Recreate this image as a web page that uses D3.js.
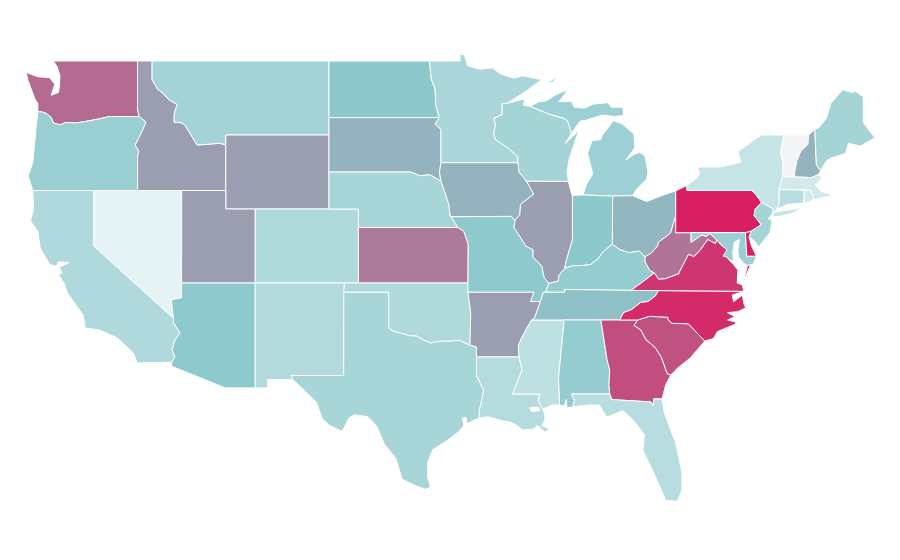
<!DOCTYPE html>
<html><head><meta charset="utf-8">
<script src="https://cdn.jsdelivr.net/npm/d3@7/dist/d3.min.js"></script>
<style>html,body{margin:0;padding:0;background:#fff}svg{display:block}</style>
</head><body><svg id="map" width="900" height="560"></svg>
<script>
const stateNames=["WA","OR","CA","ID","NV","MT","WY","UT","AZ","CO","NM","ND","SD","NE","KS","OK","TX","MN","IA","MO","AR","LA","WI","IL","MS","MI","IN","KY","TN","AL","OH","GA","FL","SC","NC","WV","PA","NY","VT","NH","ME","MA","RI","CT","NJ","MD","VA","DE"];
const stateValues=[82,44,33.5,70,8,39,70,70,49,33,32,50,60,37,78.5,33,37,36,60,49,70,31,38,70,27,42,50,46,54,46,58,89,29.5,88,97.5,80,100,23,0,60,38,17,17,29,38,43,94.5,100];
const valueStops=[0,8,50,70,100];
const colorStops=["#f3f4f5","#e5f3f4","#8cc8cc","#9b9eb1","#d81f62"];
const lonAnchors=[-109,-67];
const xAnchors=[256,875];
const latAnchors=[49,25];
const yAnchors=[61,505];

const WA=[[[-117.04,49],[-122.75,49],[-122.5,48.7],[-122.3,48.2],[-122.35,47.6],[-122.4,47.3],[-122.9,47.15],[-122.65,47.75],[-123,48.1],[-123.8,48.15],[-124.6,48.38],[-124.45,47.9],[-124.0,46.95],[-123.8,46.7],[-123.8,46.25],[-123.5,46.25],[-123.2,46.15],[-122.9,45.95],[-122.75,45.65],[-122.3,45.55],[-121.9,45.68],[-121.2,45.65],[-120.6,45.73],[-119.9,45.83],[-119.3,45.93],[-118.98,46],[-116.92,46],[-117.04,46.4]]];
const OR=[[[-123.8,46.25],[-123.5,46.25],[-123.2,46.15],[-122.9,45.95],[-122.75,45.65],[-122.3,45.55],[-121.9,45.68],[-121.2,45.65],[-120.6,45.73],[-119.9,45.83],[-119.3,45.93],[-118.98,46],[-116.92,46],[-116.46,45.7],[-116.67,45.3],[-116.85,45],[-117.2,44.45],[-117.03,44.25],[-116.95,44.1],[-117.03,43.85],[-117.03,42],[-124.15,42],[-124.45,42.8],[-124.15,43.5],[-124.0,44.7],[-123.9,45.6]]];
const CA=[[[-124.15,42],[-120,42],[-120,39],[-114.6,35.1],[-114.6,34.85],[-114.15,34.3],[-114.5,33.9],[-114.7,33.4],[-114.5,33],[-114.72,32.72],[-117.07,32.68],[-117.3,33.2],[-118.4,34.03],[-119.6,34.46],[-120.6,34.57],[-120.73,35.27],[-121.8,36.46],[-122,36.95],[-122.4,37.45],[-122.15,37.55],[-122.35,37.85],[-121.7,38.1],[-122.4,38.15],[-122.55,37.9],[-123,38],[-123.65,38.9],[-123.8,39.8],[-124.3,40.35],[-124.1,41]]];
const ID=[[[-117.04,49],[-116.05,49],[-116.05,48],[-115.7,47.5],[-115.3,47.25],[-114.9,46.9],[-114.35,46.65],[-114.55,46.15],[-114.55,45.7],[-114,45.65],[-113.8,45.5],[-113.45,45.05],[-113,44.46],[-112.3,44.5],[-111.5,44.55],[-111.05,44.48],[-111.05,42],[-117.03,42],[-117.03,43.85],[-116.95,44.1],[-117.03,44.25],[-117.2,44.45],[-116.85,45],[-116.67,45.3],[-116.46,45.7],[-116.92,46],[-117.04,46.4]]];
const NV=[[[-120,42],[-114.04,42],[-114.05,36.2],[-114.75,36.1],[-114.6,35.1],[-120,39]]];
const MT=[[[-116.05,49],[-104.05,49],[-104.05,45],[-111.05,45],[-111.05,44.48],[-111.5,44.55],[-112.3,44.5],[-113,44.46],[-113.45,45.05],[-113.8,45.5],[-114,45.65],[-114.55,45.7],[-114.55,46.15],[-114.35,46.65],[-114.9,46.9],[-115.3,47.25],[-115.7,47.5],[-116.05,48]]];
const WY=[[[-111.05,45],[-104.05,45],[-104.05,41],[-111.05,41]]];
const UT=[[[-114.04,42],[-111.05,42],[-111.05,41],[-109.05,41],[-109.05,37],[-114.05,37]]];
const AZ=[[[-114.05,37],[-109.05,37],[-109.05,31.33],[-111.07,31.33],[-114.72,32.5],[-114.72,32.72],[-114.5,33],[-114.7,33.4],[-114.5,33.9],[-114.15,34.3],[-114.6,34.85],[-114.6,35.1],[-114.75,36.1],[-114.05,36.2]]];
const CO=[[[-109.05,41],[-102.05,41],[-102.05,37],[-109.05,37]]];
const NM=[[[-109.05,37],[-103,37],[-103.05,32],[-106.6,32],[-106.5,31.78],[-108.2,31.78],[-108.2,31.33],[-109.05,31.33]]];
const ND=[[[-104.05,49],[-97.23,49],[-97.1,48],[-96.85,47.5],[-96.8,46.6],[-96.56,45.94],[-104.05,45.94]]];
const SD=[[[-104.05,45.94],[-96.56,45.94],[-96.85,45.6],[-96.45,45.3],[-96.45,43.5],[-96.55,43],[-96.45,42.5],[-97.2,42.85],[-97.9,42.8],[-98.5,43],[-104.05,43]]];
const NE=[[[-104.05,43],[-98.5,43],[-97.9,42.8],[-97.2,42.85],[-96.45,42.5],[-96.1,41.7],[-95.9,41.2],[-95.85,40.7],[-95.3,40],[-102.05,40],[-102.05,41],[-104.05,41]]];
const KS=[[[-102.05,40],[-95.3,40],[-94.9,39.8],[-94.6,39.1],[-94.62,37],[-102.05,37]]];
const OK=[[[-103,37],[-94.62,37],[-94.62,36.5],[-94.43,35.4],[-94.48,33.64],[-95.2,33.9],[-96,33.85],[-96.6,33.85],[-97.15,33.75],[-97.6,33.9],[-98.1,34.13],[-98.6,34.15],[-99.2,34.3],[-99.7,34.4],[-100,34.56],[-100,36.5],[-103.04,36.5]]];
const TX=[[[-103.04,36.5],[-100,36.5],[-100,34.56],[-99.7,34.4],[-99.2,34.3],[-98.6,34.15],[-98.1,34.13],[-97.6,33.9],[-97.15,33.75],[-96.6,33.85],[-96,33.85],[-95.2,33.9],[-94.48,33.64],[-94.04,33.55],[-94.04,33],[-94.04,32],[-93.55,31.2],[-93.7,30.6],[-93.85,30.1],[-93.85,29.7],[-94.7,29.4],[-94.75,29.75],[-95,29.7],[-94.9,29.3],[-95.2,29],[-96,28.5],[-97,28],[-97.35,27.3],[-97.35,26.5],[-97.15,25.96],[-97.5,25.85],[-98.2,26.05],[-99.1,26.4],[-99.5,27.5],[-100.3,28.3],[-100.8,29.25],[-101.4,29.77],[-102.3,29.88],[-102.7,29.7],[-103.15,28.98],[-104,29.3],[-104.5,29.65],[-104.9,30.55],[-106,31.4],[-106.5,31.78],[-106.6,32],[-103.05,32]]];
const MN=[[[-97.23,49],[-95.15,49],[-95.15,49.38],[-94.85,49.33],[-94.65,48.75],[-93.8,48.55],[-93.4,48.6],[-92.95,48.62],[-92.4,48.3],[-91.5,48.07],[-90.9,48.2],[-90,48.05],[-89.6,48],[-90.8,47.3],[-92,46.7],[-92.3,46.7],[-92.3,46.1],[-92.85,45.9],[-92.75,45.55],[-92.88,45.1],[-92.75,44.75],[-91.9,44.3],[-91.25,43.85],[-91.22,43.5],[-96.45,43.5],[-96.45,45.3],[-96.85,45.6],[-96.56,45.94],[-96.8,46.6],[-96.85,47.5],[-97.1,48]]];
const IA=[[[-96.45,43.5],[-91.22,43.5],[-91.15,43],[-90.64,42.5],[-90.15,41.8],[-91.05,41.25],[-91.1,40.7],[-91.42,40.38],[-91.7,40.6],[-95.77,40.58],[-95.85,40.7],[-95.9,41.2],[-96.1,41.7],[-96.45,42.5],[-96.55,43]]];
const MO=[[[-95.77,40.58],[-91.7,40.6],[-91.42,40.38],[-91.5,40],[-91,39.4],[-90.7,39],[-90.2,38.8],[-90.2,38.4],[-89.6,37.9],[-89.45,37.3],[-89.13,36.98],[-89.35,36.5],[-89.5,36.5],[-89.7,36],[-90.37,36],[-90.15,36.5],[-94.62,36.5],[-94.62,37],[-94.6,39.1],[-94.9,39.8],[-95.3,40],[-95.85,40.7]]];
const AR=[[[-94.62,36.5],[-90.15,36.5],[-90.37,36],[-89.7,36],[-89.9,35.55],[-90.1,35.1],[-90.3,35],[-90.6,34.6],[-91,34],[-91.2,33.6],[-91.15,33],[-94.04,33],[-94.04,33.55],[-94.48,33.64],[-94.43,35.4]]];
const LA=[[[-94.04,33],[-91.15,33],[-90.95,32.3],[-91.6,31],[-89.73,31],[-89.85,30.65],[-89.55,30.18],[-89.4,29.9],[-89.4,29.6],[-89.6,29.3],[-89.05,29.1],[-89.4,28.95],[-89.9,29.3],[-90.2,29.1],[-90.9,29.05],[-91.3,29.3],[-91.8,29.5],[-92.3,29.55],[-93.2,29.77],[-93.85,29.7],[-93.85,30.1],[-93.7,30.6],[-93.55,31.2],[-94.04,32]],[[-90.45,30.25],[-89.85,30.3],[-89.75,30.1],[-90.3,30.05]]];
const WI=[[[-92,46.7],[-91.2,46.87],[-90.75,46.95],[-90.85,46.6],[-90.4,46.55],[-89.1,46.13],[-88.1,45.9],[-87.85,45.75],[-87.6,45.1],[-88,44.55],[-87.1,45.25],[-87.5,44.3],[-87.75,43.7],[-87.9,43],[-87.8,42.49],[-90.64,42.5],[-91.15,43],[-91.22,43.5],[-91.25,43.85],[-91.9,44.3],[-92.75,44.75],[-92.88,45.1],[-92.75,45.55],[-92.85,45.9],[-92.3,46.1],[-92.3,46.7]]];
const IL=[[[-90.64,42.5],[-87.8,42.49],[-87.6,41.85],[-87.53,41.72],[-87.53,39.35],[-87.95,38.2],[-88.05,37.8],[-88.45,37.4],[-88.5,37.1],[-89.13,36.98],[-89.45,37.3],[-89.6,37.9],[-90.2,38.4],[-90.2,38.8],[-90.7,39],[-91,39.4],[-91.5,40],[-91.42,40.38],[-91.1,40.7],[-91.05,41.25],[-90.15,41.8]]];
const MS=[[[-91.15,33],[-90.95,32.3],[-91.6,31],[-89.73,31],[-89.85,30.65],[-89.55,30.18],[-88.9,30.4],[-88.4,30.4],[-88.47,31.9],[-88.1,34.9],[-88.2,35],[-90.3,35],[-90.6,34.6],[-91,34],[-91.2,33.6]]];
const MI=[[[-86.8,41.76],[-84.8,41.7],[-83.45,41.72],[-83.15,42.1],[-82.5,42.6],[-82.4,43],[-82.6,43.85],[-82.95,44.07],[-83.35,43.95],[-83.9,43.65],[-83.3,44.3],[-83.35,45.05],[-84.15,45.6],[-84.75,45.78],[-85.1,45.4],[-85.5,45],[-85.6,44.75],[-86.2,44.7],[-86.5,44],[-86.15,42.9],[-86.6,42.3]],[[-90.4,46.55],[-89.8,46.8],[-89.3,46.85],[-88.6,47.2],[-87.85,47.45],[-88.3,46.95],[-88.45,46.8],[-87.6,46.82],[-87.4,46.5],[-86.7,46.45],[-86.1,46.67],[-85.1,46.75],[-84.9,46.5],[-84.1,46.5],[-84.05,46.05],[-84.7,46],[-85.5,46.08],[-86.6,45.8],[-87,45.75],[-87.6,45.1],[-87.85,45.75],[-88.1,45.9],[-89.1,46.13]],[[-89.2,47.85],[-88.45,48.17],[-88.9,47.85]]];
const IN=[[[-87.53,41.72],[-87.2,41.75],[-86.8,41.76],[-84.8,41.7],[-84.82,39.1],[-85.4,38.73],[-85.8,38.3],[-86.3,38],[-86.8,37.95],[-87.5,37.93],[-88.05,37.8],[-87.95,38.2],[-87.53,39.35]]];
const KY=[[[-89.13,36.98],[-88.5,37.1],[-88.45,37.4],[-88.05,37.8],[-87.5,37.93],[-86.8,37.95],[-86.3,38],[-85.8,38.3],[-85.4,38.73],[-84.82,39.1],[-84.3,38.8],[-83.7,38.65],[-83,38.73],[-82.6,38.42],[-82.6,38.15],[-82.3,37.7],[-81.97,37.54],[-82.7,37.1],[-83.55,36.6],[-86,36.63],[-88.07,36.65],[-88.07,36.5],[-89.35,36.5]]];
const TN=[[[-83.55,36.6],[-81.68,36.59],[-81.9,36.3],[-82.4,36],[-82.9,35.95],[-83.5,35.57],[-84.05,35.4],[-84.32,35],[-85.6,35],[-88.2,35],[-90.3,35],[-90.1,35.1],[-89.9,35.55],[-89.7,36],[-89.5,36.5],[-88.07,36.5],[-88.07,36.65],[-86,36.63]]];
const AL=[[[-88.2,35],[-85.6,35],[-85.18,32.87],[-85,32.3],[-85.05,31.5],[-85,31],[-87.6,31],[-87.4,30.65],[-87.5,30.3],[-87.9,30.25],[-87.95,30.7],[-88.1,30.35],[-88.4,30.4],[-88.47,31.9],[-88.1,34.9]]];
const OH=[[[-80.52,41.98],[-81.4,41.75],[-82.5,41.4],[-83.45,41.72],[-84.8,41.7],[-84.82,39.1],[-84.3,38.8],[-83.7,38.65],[-83,38.73],[-82.6,38.42],[-82.2,38.6],[-81.75,39],[-81.7,39.2],[-80.87,39.7],[-80.52,40.64]]];
const GA=[[[-85.6,35],[-83.1,35],[-83.35,34.7],[-82.9,34.48],[-82.55,33.95],[-81.9,33.5],[-81.5,33],[-81.1,32.1],[-80.85,32.03],[-81.2,31.5],[-81.45,30.72],[-82,30.75],[-82.05,30.36],[-82.2,30.57],[-84.86,30.7],[-85,31],[-85.05,31.5],[-85,32.3],[-85.18,32.87]]];
const FL=[[[-87.6,31],[-85,31],[-84.86,30.7],[-82.2,30.57],[-82.05,30.36],[-82,30.75],[-81.45,30.72],[-81.3,30],[-80.7,28.7],[-80.55,28.45],[-80.1,26.75],[-80.1,25.8],[-80.4,25.2],[-81.2,25.25],[-81.6,26],[-82.2,27.05],[-82.75,27.97],[-82.65,28.8],[-83.4,29.6],[-84.1,30.1],[-85.2,29.75],[-85.7,30.4],[-86.5,30.4],[-87.5,30.3],[-87.4,30.65]]];
const SC=[[[-83.1,35],[-82.3,35.2],[-81.05,35.15],[-81.05,35.05],[-80.8,34.82],[-79.67,34.8],[-78.55,33.86],[-79.1,33.35],[-79.6,32.9],[-80.4,32.4],[-80.85,32.03],[-81.1,32.1],[-81.5,33],[-81.9,33.5],[-82.55,33.95],[-82.9,34.48],[-83.35,34.7]]];
const NC=[[[-81.68,36.59],[-75.9,36.55],[-76.68,36.35],[-76.6,35.99],[-76,36.35],[-75.9,35.9],[-75.78,35.65],[-76.32,35.45],[-77,35.4],[-76.5,35.18],[-77,35],[-76.46,34.9],[-76.46,34.78],[-77.7,34.37],[-77.95,34],[-78.55,33.86],[-79.67,34.8],[-80.8,34.82],[-81.05,35.05],[-81.05,35.15],[-82.3,35.2],[-83.1,35],[-84.32,35],[-84.05,35.4],[-83.5,35.57],[-82.9,35.95],[-82.4,36],[-81.9,36.3]]];
const WV=[[[-81.97,37.54],[-81.68,37.2],[-81.22,37.23],[-80.3,37.5],[-80.3,37.55],[-79.65,38.55],[-79.3,38.42],[-78.87,38.76],[-78.35,39.35],[-77.83,39.13],[-77.72,39.32],[-78.2,39.68],[-78.45,39.52],[-78.75,39.6],[-79.48,39.2],[-79.48,39.72],[-80.52,39.72],[-80.52,40.64],[-80.87,39.7],[-81.7,39.2],[-81.75,39],[-82.2,38.6],[-82.6,38.42],[-82.6,38.15],[-82.3,37.7]]];
const PA=[[[-80.52,41.98],[-79.76,42.27],[-79.76,42],[-75.35,42],[-75.05,41.75],[-74.7,41.36],[-75.13,40.98],[-75.2,40.65],[-74.72,40.15],[-75.4,39.8],[-75.79,39.72],[-80.52,39.72]]];
const NY=[[[-79.76,42.27],[-79.05,42.7],[-78.9,42.9],[-79.05,43.27],[-77.5,43.27],[-76.5,43.45],[-76.1,43.55],[-76.3,44.1],[-75,44.85],[-74.7,45],[-73.2,45],[-73.4,44],[-73.25,43.55],[-73.28,42.75],[-73.5,42.05],[-73.5,41.3],[-73.65,41],[-73.9,40.8],[-74,40.7],[-73.9,41],[-74.7,41.36],[-75.05,41.75],[-75.35,42],[-79.76,42]],[[-74,40.6],[-73.75,40.85],[-72.6,40.98],[-71.9,41.07],[-72.7,40.75],[-73.6,40.58]]];
const VT=[[[-73.2,45],[-71.5,45],[-71.55,44.5],[-72.05,44.1],[-72.3,43.6],[-72.45,43],[-72.46,42.73],[-73.28,42.75],[-73.25,43.55],[-73.4,44]]];
const NH=[[[-71.5,45],[-71.08,45.3],[-70.98,43.4],[-70.7,43.08],[-70.82,42.87],[-71.3,42.7],[-72.46,42.73],[-72.45,43],[-72.3,43.6],[-72.05,44.1],[-71.55,44.5]]];
const ME=[[[-71.08,45.3],[-70.8,45.4],[-70.3,45.9],[-70,46.7],[-69.2,47.45],[-68.6,47.3],[-68.3,47.35],[-67.8,47.07],[-67.8,45.7],[-67.45,45.3],[-67,44.85],[-68,44.4],[-68.8,44.55],[-69,44],[-70,43.75],[-70.3,43.6],[-70.7,43.08],[-70.98,43.4]]];
const MA=[[[-73.5,42.05],[-73.28,42.75],[-72.46,42.73],[-71.3,42.7],[-70.82,42.87],[-70.6,42.65],[-71.05,42.3],[-70.65,41.95],[-70.05,41.8],[-70.2,42.05],[-69.95,41.7],[-70.65,41.6],[-71.15,41.5],[-71.38,42.02],[-71.8,42.02]]];
const RI=[[[-71.8,42.02],[-71.38,42.02],[-71.15,41.5],[-71.5,41.37],[-71.85,41.32]]];
const CT=[[[-73.5,42.05],[-71.8,42.02],[-71.85,41.32],[-72.9,41.25],[-73.65,41],[-73.5,41.3]]];
const NJ=[[[-74.7,41.36],[-73.9,41],[-74,40.7],[-74.25,40.47],[-74,40.4],[-74.1,39.75],[-74.9,38.95],[-75.1,39.2],[-75.55,39.5],[-75.4,39.8],[-74.72,40.15],[-75.2,40.65],[-75.13,40.98]]];
const MD=[[[-79.48,39.72],[-75.79,39.72],[-75.7,38.45],[-75.05,38.45],[-75.25,38.03],[-75.65,37.95],[-75.9,38.05],[-76.25,38.4],[-76.3,38.75],[-76.2,39.35],[-76.55,39.2],[-76.65,38.6],[-76.6,38.2],[-76.9,38.25],[-77.05,38.4],[-77.3,38.45],[-77.05,38.8],[-77.5,39.1],[-77.72,39.32],[-78.2,39.68],[-78.45,39.52],[-78.75,39.6],[-79.48,39.2]]];
const VA=[[[-75.9,36.55],[-76,36.9],[-76.35,37],[-76.3,37.7],[-76.6,38],[-76.9,38.25],[-77.05,38.4],[-77.3,38.45],[-77.05,38.8],[-77.5,39.1],[-77.72,39.32],[-77.83,39.13],[-78.35,39.35],[-78.87,38.76],[-79.3,38.42],[-79.65,38.55],[-80.3,37.55],[-80.3,37.5],[-81.22,37.23],[-81.68,37.2],[-81.97,37.54],[-82.7,37.1],[-83.55,36.6],[-81.68,36.59]],[[-75.9,37.2],[-75.65,37.95],[-75.44,37.97],[-75.7,37.5]]];
const DE=[[[-75.79,39.72],[-75.4,39.8],[-75.55,39.5],[-75.4,39.05],[-75.05,38.45],[-75.7,38.45]]];
const stateRings=[WA,OR,CA,ID,NV,MT,WY,UT,AZ,CO,NM,ND,SD,NE,KS,OK,TX,MN,IA,MO,AR,LA,WI,IL,MS,MI,IN,KY,TN,AL,OH,GA,FL,SC,NC,WV,PA,NY,VT,NH,ME,MA,RI,CT,NJ,MD,VA,DE];

const x=d3.scaleLinear().domain(lonAnchors).range(xAnchors);
const y=d3.scaleLinear().domain(latAnchors).range(yAnchors);
const color=d3.scaleLinear().domain(valueStops).range(colorStops);
const path=d3.geoPath(d3.geoTransform({point(lon,lat){this.stream.point(x(lon),y(lat));}}));
const closeRing=r=>[...r,r[0]];
const states=stateNames.map((name,i)=>({type:"Feature",properties:{name,value:stateValues[i]},geometry:{type:"MultiPolygon",coordinates:stateRings[i].map(r=>[closeRing(r)])}}));
d3.select("#map").selectAll("path").data(states).join("path")
  .attr("d",path)
  .attr("fill",d=>color(d.properties.value))
  .attr("fill-rule","evenodd")
  .attr("stroke","#fff").attr("stroke-width",1);
</script></body></html>
